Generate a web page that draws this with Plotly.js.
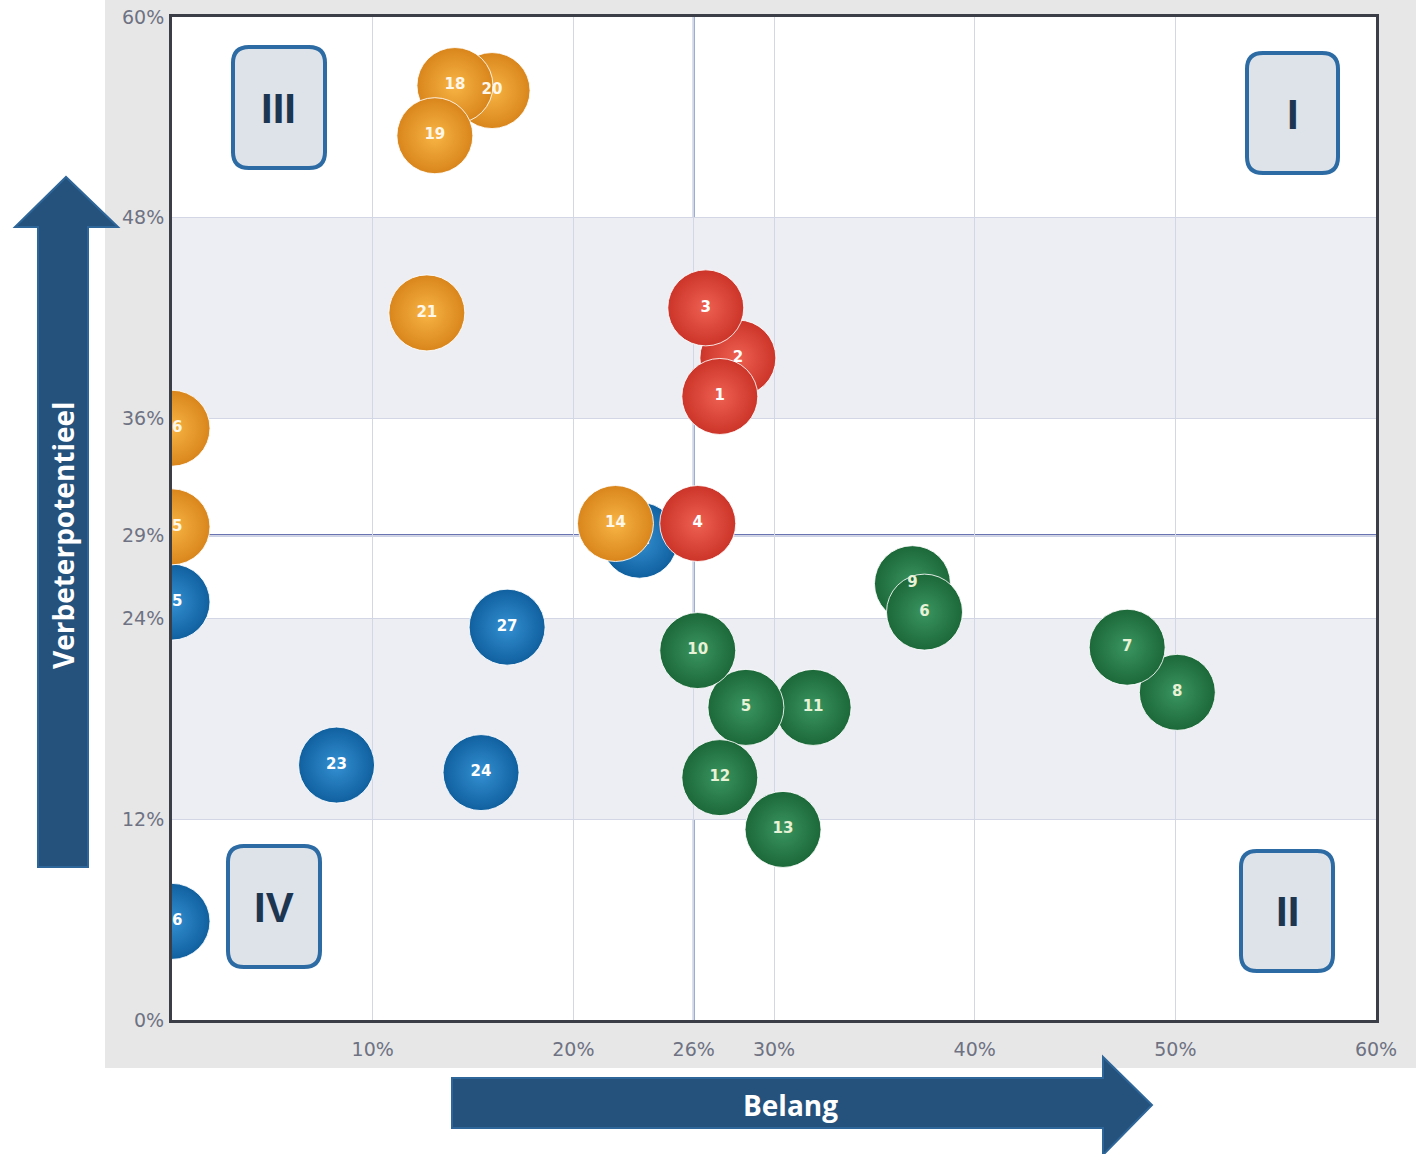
<!DOCTYPE html>
<html>
<head>
<meta charset="utf-8">
<script src="https://cdn.plot.ly/plotly-3.0.1.min.js"></script>
<style>html,body{margin:0;padding:0;background:#fff;}#chart{width:1416px;height:1154px;}</style>
</head>
<body>
<div id="chart"></div>
<script>
// ---- data ----
const blueLabels   = ['25','26','27','23','24','22'];
const blueX        = [0, 0, 16.7, 8.2, 15.4, 23.3];
const blueY        = [25.0, 5.9, 23.5, 15.25, 14.8, 28.7];

const orangeLabels = ['20','18','19','21','14','15','16'];
const orangeX      = [15.95, 14.1, 13.1, 12.7, 22.1, 0, 0];
const orangeY      = [55.6, 55.9, 52.9, 42.3, 29.7, 29.5, 35.4];

const redLabels    = ['2','3','1','4'];
const redX         = [28.2, 26.6, 27.3, 26.2];
const redY         = [39.6, 42.6, 37.3, 29.7];

const greenLabels  = ['8','7','9','6','11','5','10','12','13'];
const greenX       = [50.1, 47.6, 36.9, 37.5, 31.95, 28.6, 26.2, 27.3, 30.45];
const greenY       = [19.6, 22.3, 26.1, 24.4, 18.7, 18.7, 22.1, 14.5, 11.4];

const xTickVals = [10, 20, 26, 30, 40, 50, 60];
const xTickText = ['10%', '20%', '26%', '30%', '40%', '50%', '60%'];
const yTickVals = [0, 12, 24, 29, 36, 48, 60];
const yTickText = ['0%', '12%', '24%', '29%', '36%', '48%', '60%'];

const bandRanges = [[12, 24], [36, 48]];
const refX = 26;
const refY = 29;

const quadrantLabels = ['III', 'I', 'IV', 'II'];
const xTitle = 'Belang';
const yTitle = 'Verbeterpotentieel';

// ---- layout helpers (pixel -> paper) ----
const W = 1416, H = 1154;
const mL = 172, mR = 40, mT = 17, mB = 134;
const pw = W - mL - mR, ph = H - mT - mB;
const px = v => ((v - mL) / pw).toFixed(5);
const py = v => ((H - mB - v) / ph).toFixed(5);
function pt(x, y) { return px(x) + ',' + py(y); }
function roundRect(x0, y0, x1, y1, r) {
  return 'M' + pt(x0 + r, y0) + ' L' + pt(x1 - r, y0) + ' Q' + pt(x1, y0) + ' ' + pt(x1, y0 + r) +
    ' L' + pt(x1, y1 - r) + ' Q' + pt(x1, y1) + ' ' + pt(x1 - r, y1) +
    ' L' + pt(x0 + r, y1) + ' Q' + pt(x0, y1) + ' ' + pt(x0, y1 - r) +
    ' L' + pt(x0, y0 + r) + ' Q' + pt(x0, y0) + ' ' + pt(x0 + r, y0) + ' Z';
}
function poly(points) {
  return 'M' + points.map(p => pt(p[0], p[1])).join(' L') + ' Z';
}

function bubbleTrace(labels, xs, ys, edge, center, textColor) {
  return {
    type: 'scatter', mode: 'markers+text',
    x: xs, y: ys, text: labels,
    textposition: 'middle center',
    textfont: {family: 'DejaVu Sans', size: 15, color: textColor, weight: 'bold'},
    marker: {
      size: 76, color: edge, opacity: 1,
      gradient: {type: 'radial', color: center},
      line: {color: 'rgba(255,255,255,0.85)', width: 1}
    },
    hoverinfo: 'skip', showlegend: false
  };
}

const traces = [
  bubbleTrace(blueLabels, blueX, blueY, '#10609f', '#3490d2', '#ffffff'),
  bubbleTrace(orangeLabels, orangeX, orangeY, '#d9861c', '#f8b445', '#fff8ea'),
  bubbleTrace(redLabels, redX, redY, '#cc3529', '#ee6052', '#ffffff'),
  bubbleTrace(greenLabels, greenX, greenY, '#1c6839', '#3a9560', '#e8f2d6')
];

const shapes = [];
// gray scanned-page background
shapes.push({type: 'rect', xref: 'paper', yref: 'paper', layer: 'below',
  x0: px(105), x1: px(1430), y0: py(1068), y1: py(-10),
  fillcolor: '#e7e7e8', line: {width: 0}});
// white plot area
shapes.push({type: 'rect', xref: 'paper', yref: 'paper', layer: 'below',
  x0: 0, x1: 1, y0: 0, y1: 1, fillcolor: '#ffffff', line: {width: 0}});
// shaded bands
bandRanges.forEach(b => shapes.push({type: 'rect', xref: 'x', yref: 'y', layer: 'below',
  x0: 0, x1: 60, y0: b[0], y1: b[1], fillcolor: '#eceef4', line: {width: 0}}));
// reference lines
shapes.push({type: 'line', xref: 'x', yref: 'paper', layer: 'between',
  x0: refX, x1: refX, y0: 0, y1: 1, line: {color: '#7490c2', width: 2}});
shapes.push({type: 'line', xref: 'paper', yref: 'y', layer: 'between',
  x0: 0, x1: 1, y0: refY, y1: refY, line: {color: '#37479a', width: 2}});

// quadrant boxes
const boxes = [[233, 47, 325, 168], [1247, 53, 1338, 173], [228, 846, 320, 967], [1241, 851, 1333, 971]];
const annotations = [];
boxes.forEach((b, i) => {
  shapes.push({type: 'path', xref: 'paper', yref: 'paper', layer: 'above',
    path: roundRect(b[0], b[1], b[2], b[3], 16),
    fillcolor: '#dee2e9', line: {color: '#2c6ba3', width: 4}});
  annotations.push({xref: 'paper', yref: 'paper', x: px((b[0] + b[2]) / 2), y: py((b[1] + b[3]) / 2 + 1),
    text: quadrantLabels[i], showarrow: false, xanchor: 'center', yanchor: 'middle',
    font: {family: 'Liberation Sans', size: 42, color: '#1c3550', weight: 'bold'}});
});

// axis arrows
shapes.push({type: 'path', xref: 'paper', yref: 'paper', layer: 'above',
  path: poly([[38, 867], [38, 227], [15, 227], [66, 177], [118, 227], [88, 227], [88, 867]]),
  fillcolor: '#24527d', line: {color: '#2e6699', width: 2}});
shapes.push({type: 'path', xref: 'paper', yref: 'paper', layer: 'above',
  path: poly([[452, 1078], [1103, 1078], [1103, 1057], [1152, 1105], [1103, 1155], [1103, 1128], [452, 1128]]),
  fillcolor: '#24527d', line: {color: '#2e6699', width: 2}});
annotations.push({xref: 'paper', yref: 'paper', x: px(63), y: py(535), text: yTitle,
  textangle: -90, showarrow: false, xanchor: 'center', yanchor: 'middle',
  font: {family: 'Open Sans', size: 28, color: '#ffffff', weight: 'bold'}});
annotations.push({xref: 'paper', yref: 'paper', x: px(790), y: py(1105), text: xTitle,
  showarrow: false, xanchor: 'center', yanchor: 'middle',
  font: {family: 'Open Sans', size: 28, color: '#ffffff', weight: 'bold'}});

const axisCommon = {
  showline: true, linecolor: '#3b3e47', linewidth: 3, mirror: true,
  showgrid: true, gridcolor: '#d3d6e4', gridwidth: 1,
  zeroline: false, ticks: '', fixedrange: true,
  tickfont: {family: 'DejaVu Sans', size: 19, color: '#6e7282'}
};

const layout = {
  width: W, height: H,
  margin: {l: mL, r: mR, t: mT, b: mB, pad: 0},
  paper_bgcolor: '#ffffff', plot_bgcolor: '#ffffff',
  xaxis: Object.assign({}, axisCommon, {range: [0, 60], tickvals: xTickVals, ticktext: xTickText, ticklabelstandoff: 10}),
  yaxis: Object.assign({}, axisCommon, {range: [0, 60], tickvals: yTickVals, ticktext: yTickText, ticklabelstandoff: 1}),
  shapes: shapes, annotations: annotations,
  showlegend: false
};

Plotly.newPlot('chart', traces, layout, {displayModeBar: false, staticPlot: true});
</script>
</body>
</html>
